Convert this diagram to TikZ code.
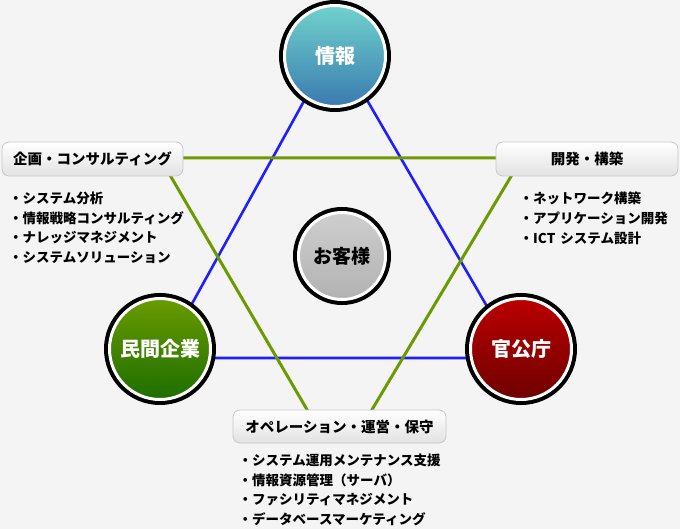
\documentclass[tikz,border=0pt]{standalone}
\usepackage{fontspec}
\setmainfont{Noto Sans CJK JP}
\definecolor{bgpaper}{RGB}{244,244,244}
\definecolor{triblue}{RGB}{30,30,255}
\definecolor{trigreen}{RGB}{108,154,0}
\definecolor{panelrim}{RGB}{200,200,200}
\definecolor{panelgray}{RGB}{226,226,226}
\definecolor{infotop}{RGB}{112,210,204}
\definecolor{infobot}{RGB}{58,122,176}
\definecolor{privtop}{RGB}{106,154,0}
\definecolor{privbot}{RGB}{28,110,0}
\definecolor{govtop}{RGB}{186,0,0}
\definecolor{govbot}{RGB}{110,0,0}
\definecolor{custtop}{RGB}{206,206,206}
\definecolor{custbot}{RGB}{178,178,178}
\usetikzlibrary{positioning}

\begin{document}
\begin{tikzpicture}[
  x=1pt,y=-1pt,
  hub/.style={circle,inner sep=0pt,minimum size=101pt,draw=white,line width=3pt,
              preaction={draw=black,line width=11pt},
              text=white,font=\fontsize{20}{20}\selectfont\bfseries},
  panel/.style={draw=panelrim,line width=0.8pt,rounded corners=7pt,
                top color=white,bottom color=panelgray,minimum height=34pt,
                inner sep=0pt,font=\fontsize{14.5}{14.5}\selectfont\bfseries},
  itemlist/.style={anchor=north west,inner sep=0pt,align=left,
                   font=\fontsize{13.5}{19.6}\selectfont\bfseries},
  blueline/.style={triblue,line width=2.6pt,line join=round},
  greenline/.style={trigreen,line width=3pt,line join=round},
]
  % Paper
  \fill[bgpaper] (0,0) rectangle (680,529);
  \useasboundingbox (0,0) rectangle (680,529);

  % Corners of the two triangles
  \coordinate (bA) at (335,45);
  \coordinate (bB) at (162,358);
  \coordinate (bC) at (517,358);
  \coordinate (gA) at (160,158);
  \coordinate (gB) at (522,158);
  \coordinate (gL) at (309,413);
  \coordinate (gR) at (370,413);

  % Blue triangle (between the three hubs)
  \draw[blueline] (bA) -- (bB) -- (bC) -- cycle;

  % Green lines (between the three service panels)
  \draw[greenline] (gL) -- (gA) -- (gB) -- (gR);

  % Hubs
  \node[hub,top color=infotop,middle color=infotop!70!infobot,bottom color=infobot]
    (info) at (335,56) {情報};
  \node[hub,top color=privtop,middle color=privtop!80!privbot,bottom color=privbot]
    (priv) at (160,349) {民間企業};
  \node[hub,top color=govtop,middle color=govtop,bottom color=govbot]
    (gov) at (521,349) {官公庁};
  \node[hub,minimum size=87pt,text=black,font=\fontsize{19}{19}\selectfont\bfseries,
        top color=custtop,middle color=custtop,bottom color=custbot]
    (cust) at (342,256) {お客様};

  % Service panels
  \node[panel,minimum width=181pt] (consult) at (92.5,159) {企画・コンサルティング};
  \node[panel,minimum width=182pt] (build) at (587,159) {開発・構築};
  \node[panel,minimum width=213pt,minimum height=33pt] (operate) at (339.5,426.5)
    {オペレーション・運営・保守};

  % Item lists
  \node[itemlist] (consultlist) at (9,192) {%
    ・システム分析\\
    ・情報戦略コンサルティング\\
    ・ナレッジマネジメント\\
    ・システムソリューション};
  \node[itemlist] (buildlist) at (519.5,192) {%
    ・ネットワーク構築\\
    ・アプリケーション開発\\
    ・ICT\hspace{2pt} システム設計};
  \node[itemlist] (operatelist) at (238.5,454) {%
    ・システム運用メンテナンス支援\\
    ・情報資源管理（サーバ）\\
    ・ファシリティマネジメント\\
    ・データベースマーケティング};
\end{tikzpicture}
\end{document}
